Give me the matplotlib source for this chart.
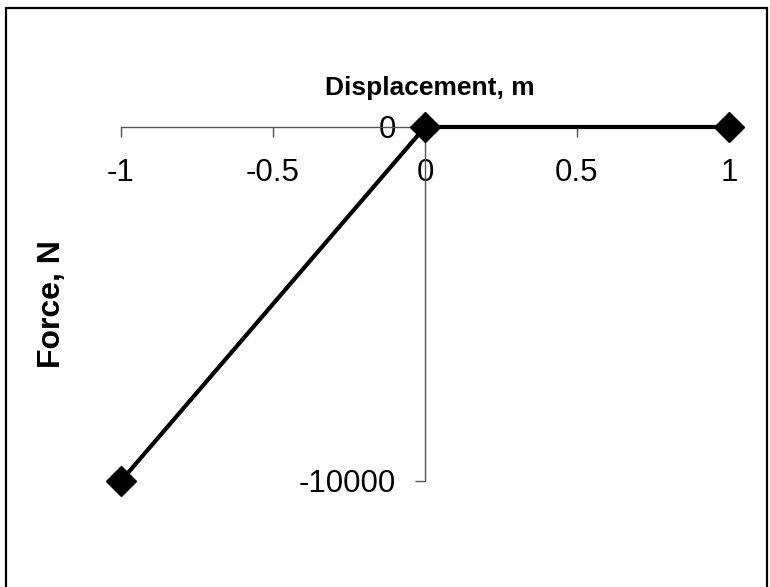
import matplotlib.pyplot as plt
from matplotlib.patches import Rectangle

plt.rcParams['font.family'] = ['Liberation Sans', 'DejaVu Sans']

# data
displacement = [-1, 0, 1]
force = [-10000, 0, 0]
x_ticks = [-1, -0.5, 0, 0.5, 1]
x_labels = ['-1', '-0.5', '0', '0.5', '1']
y_ticks = [-10000, 0]
y_labels = ['-10000', '0']

W, H = 770, 587
fig = plt.figure(figsize=(W / 100, H / 100), dpi=100)

# chart border
fig.patches.append(Rectangle((6 / W, -0.01), (761 / W), 1 - 8 / H + 0.01,
                             transform=fig.transFigure, fill=False,
                             edgecolor='black', linewidth=1.6))

ax = fig.add_axes([121 / W, 1 - 481 / H, (729 - 121) / W, (481 - 127) / H])
ax.set_xlim(-1, 1)
ax.set_ylim(-10000, 0)
ax.patch.set_visible(False)

ax.plot(displacement, force, color='black', lw=3, marker='D',
        markersize=15, clip_on=False, zorder=5)

for s in ['top', 'right']:
    ax.spines[s].set_visible(False)
ax.spines['bottom'].set_position(('data', 0))
ax.spines['left'].set_position(('data', 0))
for s in ['bottom', 'left']:
    ax.spines[s].set_color('#555555')
    ax.spines[s].set_linewidth(1.0)

ax.set_xticks(x_ticks)
ax.set_xticklabels(x_labels)
ax.set_yticks(y_ticks)
ax.set_yticklabels(y_labels)
ax.tick_params(axis='x', direction='out', length=7, width=1, color='#555555',
               labelsize=22.5, pad=15)
ax.tick_params(axis='y', direction='out', length=7, width=1, color='#555555',
               labelsize=22.5, pad=14)

fig.text(430 / W, 1 - 88 / H, 'Displacement, m', ha='center', va='center',
         fontsize=19, fontweight='bold')
fig.text(52 / W, 1 - 304 / H, 'Force, N', ha='center', va='center',
         rotation=90, fontsize=23, fontweight='bold')

fig.savefig('out.png', dpi=100)
